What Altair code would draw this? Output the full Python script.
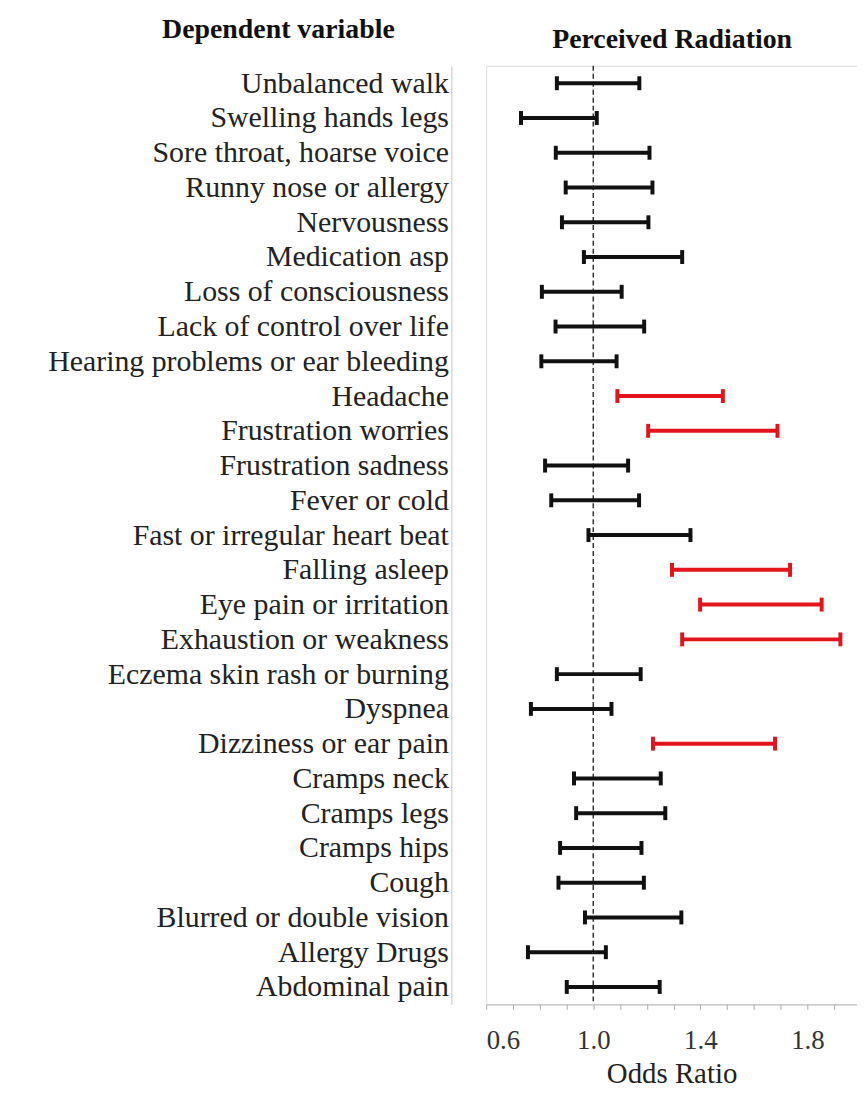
import altair as alt
import pandas as pd

categories = [
    "Unbalanced walk", "Swelling hands legs", "Sore throat, hoarse voice",
    "Runny nose or allergy", "Nervousness", "Medication asp",
    "Loss of consciousness", "Lack of control over life",
    "Hearing problems or ear bleeding", "Headache", "Frustration worries",
    "Frustration sadness", "Fever or cold", "Fast or irregular heart beat",
    "Falling asleep", "Eye pain or irritation", "Exhaustion or weakness",
    "Eczema skin rash or burning", "Dyspnea", "Dizziness or ear pain",
    "Cramps neck", "Cramps legs", "Cramps hips", "Cough",
    "Blurred or double vision", "Allergy Drugs", "Abdominal pain",
]
lower = [0.864, 0.730, 0.860, 0.897, 0.883, 0.965, 0.808, 0.859, 0.806,
         1.090, 1.205, 0.820, 0.843, 0.982, 1.294, 1.399, 1.332, 0.864,
         0.767, 1.223, 0.928, 0.936, 0.876, 0.870, 0.969, 0.756, 0.901]
upper = [1.172, 1.013, 1.210, 1.221, 1.206, 1.332, 1.106, 1.190, 1.087,
         1.484, 1.688, 1.130, 1.171, 1.363, 1.735, 1.853, 1.923, 1.177,
         1.068, 1.679, 1.252, 1.269, 1.180, 1.189, 1.329, 1.047, 1.248]
significant = ["no", "no", "no", "no", "no", "no", "no", "no", "no",
               "yes", "yes", "no", "no", "no", "yes", "yes", "yes", "no",
               "no", "yes", "no", "no", "no", "no", "no", "no", "no"]
tick_values = [0.6, 0.7, 0.8, 0.9, 1.0, 1.1, 1.2, 1.3, 1.4, 1.5, 1.6, 1.7, 1.8, 1.9]
labelled_ticks = ["0.6", "1.0", "1.4", "1.8"]
reference_value = [1.0]

df = pd.DataFrame({"cat": categories, "lo": lower, "hi": upper, "sig": significant})
ref = pd.DataFrame({"v": reference_value})

SERIF = "'Liberation Serif', 'Times New Roman', 'DejaVu Serif', serif"

xscale = alt.Scale(domain=[0.6, 1.985], nice=False, zero=False)
yscale = alt.Scale(type="point", domain=categories, padding=0.5)
cscale = alt.Scale(domain=["yes", "no"], range=["#e3141b", "#111111"])

label_list = "[" + ",".join('"%s"' % s for s in labelled_ticks) + "]"
xaxis = alt.Axis(
    values=tick_values,
    labelExpr="indexof(" + label_list + ", format(datum.value, '.1f')) >= 0 ? format(datum.value, '.1f') : ''",
    title="Odds Ratio", titleFont=SERIF, titleFontSize=29, titleFontWeight="normal",
    titleColor="#222", titlePadding=7,
    labelFont=SERIF, labelFontSize=27, labelColor="#333", labelPadding=18,
    tickColor="#aaaaaa", tickSize=5, domainColor="#bbbbbb", grid=False,
)
yaxis = alt.Axis(
    title=None, orient="left", offset=35, ticks=False, domainColor="#c4c4c4",
    labelFont=SERIF, labelFontSize=30, labelColor="#222", labelPadding=3,
    labelLimit=800,
)

base = alt.Chart(df)

line = base.mark_rule(strokeWidth=4).encode(
    x=alt.X("lo:Q", scale=xscale, axis=xaxis),
    x2="hi:Q",
    y=alt.Y("cat:N", scale=yscale, axis=yaxis, sort=categories),
    color=alt.Color("sig:N", scale=cscale, legend=None),
)
cap_lo = base.mark_tick(size=14, thickness=4, opacity=1).encode(
    x=alt.X("lo:Q", scale=xscale, axis=None),
    y=alt.Y("cat:N", scale=yscale, sort=categories),
    color=alt.Color("sig:N", scale=cscale, legend=None),
)
cap_hi = base.mark_tick(size=14, thickness=4, opacity=1).encode(
    x=alt.X("hi:Q", scale=xscale, axis=None),
    y=alt.Y("cat:N", scale=yscale, sort=categories),
    color=alt.Color("sig:N", scale=cscale, legend=None),
)
refline = alt.Chart(ref).mark_rule(strokeDash=[5, 3], strokeWidth=1.5, color="#333").encode(
    x=alt.X("v:Q", scale=xscale,
            axis=alt.Axis(orient="top", title="Perceived Radiation", labels=False,
                          ticks=False, domain=False, grid=False,
                          titleFont=SERIF, titleFontSize=28, titleFontWeight="bold",
                          titleColor="#111", titlePadding=12)),
)

chart = alt.layer(refline, line, cap_lo, cap_hi).resolve_axis(x="independent").properties(
    width=373, height=944,
    autosize=alt.AutoSizeParams(type="none"),
    padding={"left": 481, "top": 55, "right": 0, "bottom": 88},
    title=alt.TitleParams("Dependent variable", anchor="start", align="center",
                          dx=-209, dy=22, font=SERIF, fontSize=28, fontWeight="bold",
                          color="#111", frame="group"),
).configure_view(stroke="#c4c4c4", strokeWidth=1.5).configure(background="white")

chart.save("out.html", embed_options={"renderer": "svg", "actions": False})
